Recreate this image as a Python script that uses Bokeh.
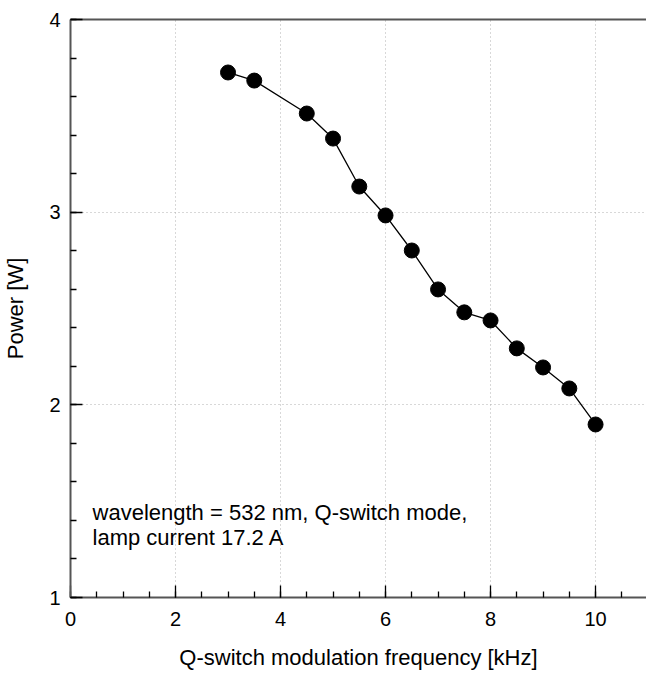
import numpy as np
from bokeh.plotting import figure
from bokeh.models import (Range1d, FixedTicker, LinearAxis, Label, ColumnDataSource)
from bokeh.embed import file_html
from bokeh.resources import INLINE

# data
freq_khz = [3.0, 3.5, 4.5, 5.0, 5.5, 6.0, 6.5, 7.0, 7.5, 8.0, 8.5, 9.0, 9.5, 10.0]
power_w = [3.725, 3.683, 3.512, 3.382, 3.133, 2.983, 2.801, 2.599, 2.480, 2.438, 2.293, 2.194, 2.085, 1.898]
x_major_ticks = [0, 2, 4, 6, 8, 10]
y_major_ticks = [1, 2, 3, 4]
note_lines = ["wavelength = 532 nm, Q-switch mode,", "lamp current 17.2 A"]

FONT = "Liberation Sans"
AX_COL = "#555555"

p = figure(width=646, height=664, frame_width=576, frame_height=578,
           x_range=Range1d(0, 10.97), y_range=Range1d(1, 4),
           output_backend="svg", toolbar_location=None,
           min_border_left=70, min_border_right=0, min_border_top=19,
           min_border_bottom=20)
p.outline_line_color = None
p.background_fill_color = "white"

# grid
for g in (p.xgrid, p.ygrid):
    g.grid_line_color = "#b0b0b0"
    g.grid_line_dash = "1 3"
    g.grid_line_width = 1
p.xgrid.ticker = FixedTicker(ticks=[2, 4, 6, 8, 10])
p.ygrid.ticker = FixedTicker(ticks=[2, 3])

xax = p.xaxis[0]
yax = p.yaxis[0]
xax.ticker = FixedTicker(ticks=x_major_ticks, minor_ticks=list(np.arange(0, 11.0, 0.5)))
yax.ticker = FixedTicker(ticks=y_major_ticks, minor_ticks=list(np.round(np.arange(1, 4.01, 0.2), 2)))
for ax in (xax, yax):
    ax.axis_line_color = AX_COL
    ax.axis_line_width = 2
    ax.major_tick_in = 12
    ax.major_tick_out = 0
    ax.minor_tick_in = 6
    ax.minor_tick_out = 0
    ax.major_tick_line_color = "black"
    ax.minor_tick_line_color = "black"
    ax.major_tick_line_width = 1.3
    ax.minor_tick_line_width = 1.3
    ax.major_label_text_font = FONT
    ax.major_label_text_font_size = "20px"
    ax.major_label_text_color = "black"
    ax.axis_label_text_font = FONT
    ax.axis_label_text_font_size = "22px"
    ax.axis_label_text_font_style = "normal"
    ax.axis_label_text_color = "black"
xax.axis_label = "Q-switch modulation frequency [kHz]"
yax.axis_label = "Power [W]"
xax.major_label_standoff = 14
yax.major_label_standoff = 10
xax.axis_label_standoff = 16
yax.axis_label_standoff = 18

top = LinearAxis(ticker=FixedTicker(ticks=[]), major_label_text_font_size="0px",
                 axis_line_color=AX_COL, axis_line_width=2,
                 major_tick_line_color=None, minor_tick_line_color=None)
p.add_layout(top, "above")

src = ColumnDataSource(dict(x=freq_khz, y=power_w))
p.line("x", "y", source=src, line_color="black", line_width=1.3)
p.scatter("x", "y", source=src, size=15, fill_color="black", line_color="black")

for i, t in enumerate(note_lines):
    p.add_layout(Label(x=0.42, y=1.442 - i * 0.13, text=t, text_font=FONT,
                       text_font_size="22px", text_color="black",
                       text_baseline="alphabetic"))

open("out.html", "w").write(file_html(p, INLINE))
